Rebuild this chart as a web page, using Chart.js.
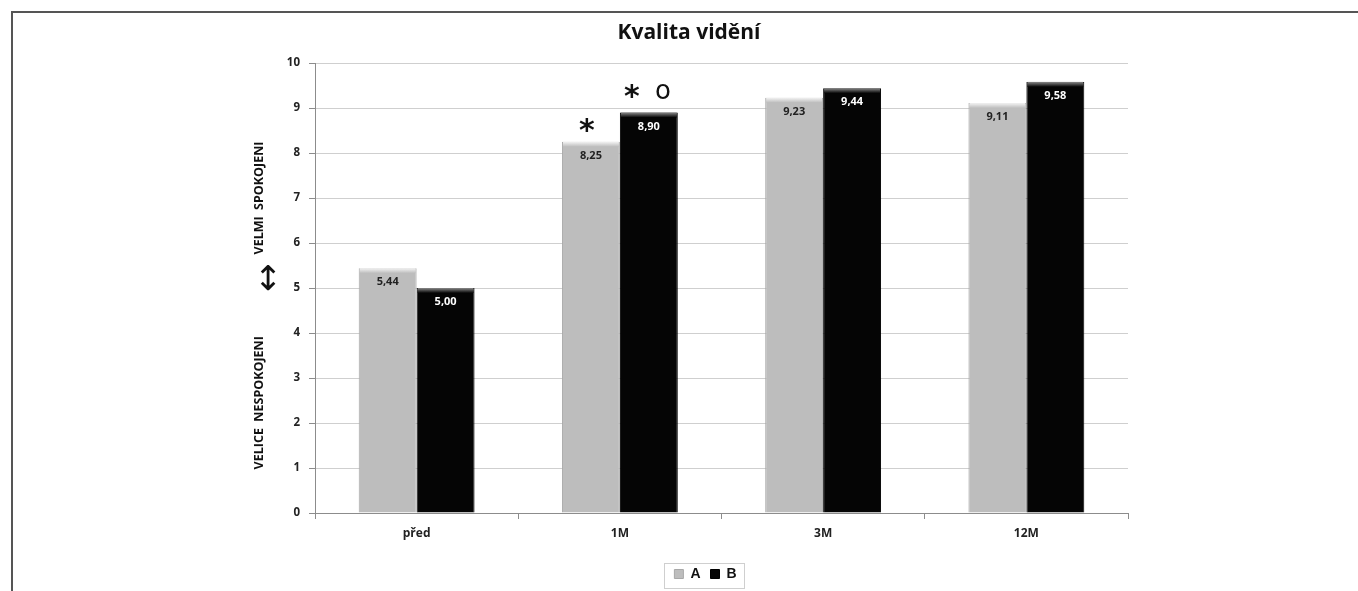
<!DOCTYPE html>
<html>
<head>
<meta charset="utf-8">
<script src="https://cdn.jsdelivr.net/npm/chart.js@4"></script>
<style>
  html, body { margin: 0; padding: 0; background: #fff; overflow: hidden; }
  #wrap { position: relative; width: 1358px; height: 591px; overflow: hidden; }
  #frame { position: absolute; left: 11px; top: 11px; width: 1400px; height: 700px;
           border-left: 2px solid #555; border-top: 2px solid #555; pointer-events: none; }
</style>
</head>
<body>
<div id="wrap">
  <canvas id="myChart" width="1358" height="591"></canvas>
  <div id="frame"></div>
</div>
<script>
// data
const kategorie = ["před", "1M", "3M", "12M"]
const hodnotyA = [5.44, 8.25, 9.23, 9.11]
const hodnotyB = [5.00, 8.90, 9.44, 9.58]
const hvezdyA = ["", "*", "", ""]
const hvezdyB = ["", "*", "", ""]
const kolieckaB = ["", "o", "", ""]
const titulek = "Kvalita vidění"
const popisHore = "VELMI  SPOKOJENI"
const popisDole = "VELICE  NESPOKOJENI"

const pismo = "'Open Sans', 'Noto Sans', sans-serif"

function cislo(v){
    return v.toFixed(2).replace(".", ",")
}

// extra drawing: title, side texts, value labels, bevels, stars, legend box
const kresleni = {
    id: "kresleni",
    afterDatasetsDraw(chart){
        const ctx = chart.ctx
        ctx.save()
        chart.data.datasets.forEach((ds, i) => {
            const meta = chart.getDatasetMeta(i)
            meta.data.forEach((bar, j) => {
                const left = bar.x - bar.width / 2
                // top bevel
                const g = ctx.createLinearGradient(0, bar.y, 0, bar.y + 5)
                if (i === 0){
                    g.addColorStop(0, "#f4f4f4")
                    g.addColorStop(1, "#bdbdbd")
                } else {
                    g.addColorStop(0, "#8a8a8a")
                    g.addColorStop(1, "#050505")
                }
                ctx.fillStyle = g
                ctx.fillRect(left + 1, bar.y, bar.width - 2, 5)
                // value label
                ctx.font = "bold 11px " + pismo
                ctx.textAlign = "center"
                ctx.textBaseline = "middle"
                ctx.fillStyle = i === 0 ? "#222" : "#fff"
                ctx.fillText(cislo(ds.data[j]), bar.x, bar.y + 14)
                // stars
                ctx.fillStyle = "#111"
                if (i === 0 && hvezdyA[j]){
                    ctx.font = "bold 30px 'DejaVu Sans', sans-serif"
                    ctx.fillText(hvezdyA[j], bar.x - 4, bar.y - 10)
                }
                if (i === 1 && hvezdyB[j]){
                    ctx.font = "bold 30px 'DejaVu Sans', sans-serif"
                    ctx.fillText(hvezdyB[j], bar.x - 17, bar.y - 14)
                }
                if (i === 1 && kolieckaB[j]){
                    ctx.font = "26px 'DejaVu Sans', sans-serif"
                    ctx.fillText(kolieckaB[j], bar.x + 14, bar.y - 20)
                }
            })
        })
        ctx.restore()
    },
    afterDraw(chart){
        const ctx = chart.ctx
        const y = chart.scales.y
        ctx.save()
        // title
        ctx.font = "bold 21px " + pismo
        ctx.fillStyle = "#111"
        ctx.textAlign = "center"
        ctx.textBaseline = "middle"
        ctx.fillText(titulek, 689, 33)
        // side texts
        ctx.font = "bold 12.5px " + pismo
        ctx.save()
        ctx.translate(259, y.getPixelForValue(7.0))
        ctx.rotate(-Math.PI / 2)
        ctx.fillText(popisHore, 0, 0)
        ctx.restore()
        ctx.save()
        ctx.translate(259, y.getPixelForValue(2.45))
        ctx.rotate(-Math.PI / 2)
        ctx.fillText(popisDole, 0, 0)
        ctx.restore()
        ctx.font = "34px 'DejaVu Sans', sans-serif"
        ctx.fillText("↕", 268, y.getPixelForValue(5.15))
        // legend box
        const boxy = chart.legend.legendHitBoxes
        if (boxy && boxy.length){
            const l = boxy[0].left - 10
            const r = boxy[boxy.length - 1].left + boxy[boxy.length - 1].width + 8
            ctx.strokeStyle = "#cfcfcf"
            ctx.lineWidth = 1
            ctx.strokeRect(Math.round(l) + 0.5, 563.5, Math.round(r - l), 25)
        }
        ctx.restore()
    }
}

const datos = {
    labels: kategorie,
    datasets: [
        {
            label: "A",
            data: hodnotyA,
            backgroundColor: "#bdbdbd",
            borderColor: "#a8a8a8",
            borderWidth: 1
        },
        {
            label: "B",
            data: hodnotyB,
            backgroundColor: "#050505",
            borderColor: "#000",
            borderWidth: 1
        }
    ]
}

const config = {
    type: "bar",
    data: datos,
    plugins: [kresleni],
    options: {
        responsive: false,
        animation: false,
        layout: { padding: { left: 283, right: 230, top: 63, bottom: 0 } },
        datasets: { bar: { categoryPercentage: 0.57, barPercentage: 1.0 } },
        scales: {
            x: {
                grid: { drawOnChartArea: false, drawTicks: true, tickLength: 6, color: "#8c8c8c" },
                border: { color: "#8c8c8c" },
                ticks: { color: "#222", font: { family: pismo, size: 12, weight: "bold" }, padding: 7 },
                afterFit(scale){ scale.height = 44 }
            },
            y: {
                min: 0,
                max: 10,
                ticks: { stepSize: 1, color: "#222", font: { family: pismo, size: 11.5, weight: "bold" }, padding: 9 },
                grid: { color: "#cfcfcf", tickLength: 6, tickColor: "#8c8c8c" },
                border: { color: "#8c8c8c" },
                afterFit(scale){ scale.width = 32 }
            }
        },
        plugins: {
            title: { display: false },
            tooltip: { enabled: false },
            legend: {
                position: "bottom",
                labels: {
                    boxWidth: 9,
                    boxHeight: 9,
                    padding: 10,
                    color: "#111",
                    font: { family: "'Liberation Sans', Arial, sans-serif", size: 14, weight: "bold" }
                }
            }
        }
    }
}

const myChart = new Chart(document.querySelector("#myChart"), config)
</script>
</body>
</html>
